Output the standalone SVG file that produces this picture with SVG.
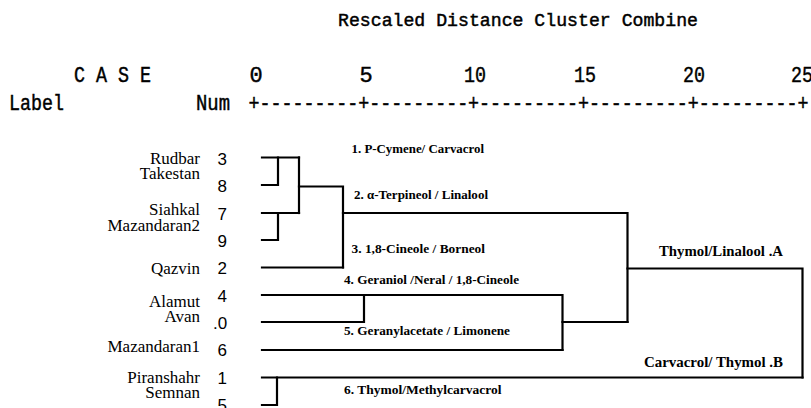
<svg xmlns="http://www.w3.org/2000/svg" width="811" height="408" viewBox="0 0 811 408">
<style>
.mono{font-family:"Liberation Mono","DejaVu Sans Mono",monospace;fill:#000;stroke:#000;stroke-width:0.45}
.hdr{font-size:18px}
.ax{font-size:22px}
.name{font-family:"Liberation Serif","Times New Roman",serif;font-size:17px;fill:#000;text-anchor:end}
.num{font-family:"Liberation Sans",Arial,sans-serif;font-size:17px;fill:#000}
.ann{font-family:"Liberation Serif","Times New Roman",serif;font-size:12px;font-weight:bold;fill:#000}
.big{font-size:14.5px}
.tick{text-anchor:middle}
#connectors path{fill:none;stroke:#000;stroke-width:2.2;stroke-linecap:square;stroke-linejoin:miter}
</style>
<rect width="811" height="408" fill="#fff"/>
<g id="axis">
<text class="mono hdr" x="338" y="26" textLength="360" lengthAdjust="spacingAndGlyphs">Rescaled Distance Cluster Combine</text>
<text class="mono ax" x="74" y="82" textLength="77" lengthAdjust="spacingAndGlyphs">C A S E</text>
<text class="mono ax tick" x="256" y="82">0</text>
<text class="mono ax tick" x="366" y="82">5</text>
<text class="mono ax tick" x="475" y="82" textLength="22" lengthAdjust="spacingAndGlyphs">10</text>
<text class="mono ax tick" x="585" y="82" textLength="22" lengthAdjust="spacingAndGlyphs">15</text>
<text class="mono ax tick" x="694" y="82" textLength="22" lengthAdjust="spacingAndGlyphs">20</text>
<text class="mono ax tick" x="802" y="82" textLength="22" lengthAdjust="spacingAndGlyphs">25</text>
<text class="mono ax" x="9" y="110" textLength="55" lengthAdjust="spacingAndGlyphs">Label</text>
<text class="mono ax" x="196" y="110" textLength="34" lengthAdjust="spacingAndGlyphs">Num</text>
<text class="mono ax" x="248.5" y="110" textLength="560" lengthAdjust="spacingAndGlyphs">+---------+---------+---------+---------+---------+</text>
</g>
<g id="case-3"><text class="name" x="200" y="164">Rudbar</text><text class="num" x="217.5" y="165">3</text></g>
<g id="case-8"><text class="name" x="200" y="179">Takestan</text><text class="num" x="217.5" y="192">8</text></g>
<g id="case-7"><text class="name" x="200" y="215">Siahkal</text><text class="num" x="217.5" y="219.5">7</text></g>
<g id="case-9"><text class="name" x="200" y="231">Mazandaran2</text><text class="num" x="217.5" y="247">9</text></g>
<g id="case-2"><text class="name" x="200" y="274">Qazvin</text><text class="num" x="217.5" y="274">2</text></g>
<g id="case-4"><text class="name" x="200" y="307">Alamut</text><text class="num" x="217.5" y="301.5">4</text></g>
<g id="case-10"><text class="name" x="200" y="322">Avan</text><text class="num" x="213" y="329">.0</text></g>
<g id="case-6"><text class="name" x="200" y="352">Mazandaran1</text><text class="num" x="217.5" y="356">6</text></g>
<g id="case-1"><text class="name" x="200" y="383">Piranshahr</text><text class="num" x="217.5" y="384">1</text></g>
<g id="case-5"><text class="name" x="200" y="398">Semnan</text><text class="num" x="217.5" y="411">5</text></g>
<g id="connectors">
<path d="M262,157.5 H299"/>
<path d="M262,185 H278 V157.5"/>
<path d="M299,157.5 V213"/>
<path d="M262,213 H299"/>
<path d="M262,240 H278 V213"/>
<path d="M299,186.5 H343 V267.5"/>
<path d="M262,267.5 H343"/>
<path d="M343,213 H627.5 V322"/>
<path d="M627.5,268.5 H802.5 V377.5"/>
<path d="M262,377.5 H802.5"/>
<path d="M262,405 H277 V377.5"/>
<path d="M262,295 H562.5 V350"/>
<path d="M262,322 H364 V295"/>
<path d="M262,350 H562.5"/>
<path d="M562.5,322 H627.5"/>
</g>
<g id="annotations">
<text class="ann" x="351.5" y="153" textLength="132.5" lengthAdjust="spacingAndGlyphs">1. P-Cymene/ Carvacrol</text>
<text class="ann" x="354" y="199" textLength="134" lengthAdjust="spacingAndGlyphs">2. α-Terpineol / Linalool</text>
<text class="ann" x="351.5" y="252.5" textLength="133.5" lengthAdjust="spacingAndGlyphs">3. 1,8-Cineole / Borneol</text>
<text class="ann big" x="659" y="256" textLength="124" lengthAdjust="spacingAndGlyphs">Thymol/Linalool .A</text>
<text class="ann" x="344" y="284" textLength="175" lengthAdjust="spacingAndGlyphs">4. Geraniol /Neral / 1,8-Cineole</text>
<text class="ann" x="344" y="335" textLength="166" lengthAdjust="spacingAndGlyphs">5.  Geranylacetate / Limonene</text>
<text class="ann big" x="644" y="366.5" textLength="139" lengthAdjust="spacingAndGlyphs">Carvacrol/ Thymol .B</text>
<text class="ann" x="344" y="394" textLength="157.5" lengthAdjust="spacingAndGlyphs">6. Thymol/Methylcarvacrol</text>
</g>
</svg>
